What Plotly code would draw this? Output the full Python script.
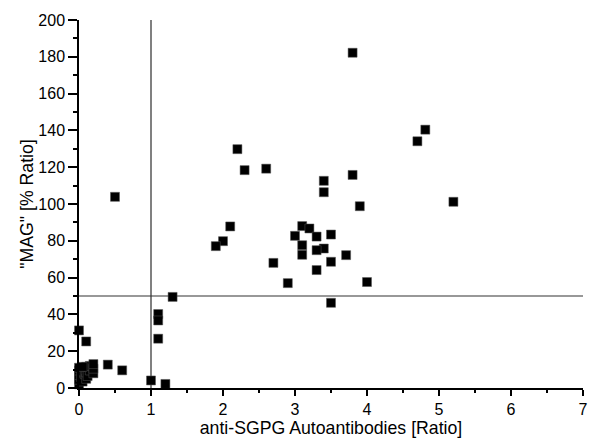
import plotly.graph_objects as go

x_vals = [3.80, 4.81, 4.70, 2.20, 2.30, 2.60, 3.80, 3.40, 3.40, 0.50, 5.20, 3.90,
          2.10, 2.00, 1.90, 3.10, 3.20, 3.00, 3.30, 3.50, 3.10, 3.40, 3.30, 3.10,
          3.71, 3.50, 2.70, 3.30, 2.90, 4.00, 3.50,
          1.30, 1.10, 1.10, 1.10, 1.00, 1.20,
          0.00, 0.10, 0.40, 0.60,
          0.00, 0.00, 0.00, 0.00, 0.00, 0.03, 0.05, 0.05, 0.08, 0.10, 0.10, 0.10,
          0.12, 0.15, 0.15, 0.20, 0.20, 0.20, 0.05]
y_vals = [182.2, 140.4, 134.1, 129.8, 118.4, 119.2, 115.8, 112.6, 106.4, 103.9, 101.2, 98.8,
          87.8, 79.8, 77.1, 88.0, 86.7, 82.7, 82.3, 83.4, 77.6, 75.8, 74.9, 72.4,
          72.2, 68.6, 68.0, 64.1, 57.0, 57.6, 46.3,
          49.5, 40.2, 36.7, 26.8, 4.1, 2.2,
          31.3, 25.3, 12.7, 9.6,
          2.0, 4.5, 7.0, 9.5, 11.0, 6.0, 3.5, 9.0, 7.5, 5.0, 8.5, 11.5,
          6.5, 9.5, 12.0, 8.0, 10.5, 13.0, 11.5]

x_ticks = [0, 1, 2, 3, 4, 5, 6, 7]
y_ticks = [0, 20, 40, 60, 80, 100, 120, 140, 160, 180, 200]
cut_x = 1
cut_y = 50

fig = go.Figure()
fig.add_trace(go.Scatter(
    x=x_vals, y=y_vals, mode="markers",
    marker=dict(symbol="square", size=9, color="black",
                line=dict(color="#555555", width=0.5)),
    cliponaxis=False, showlegend=False))

fig.add_shape(type="line", x0=cut_x, x1=cut_x, y0=0, y1=200, xref="x", yref="y",
              line=dict(color="#808080", width=2), layer="below")
fig.add_shape(type="line", x0=0, x1=7, y0=cut_y, y1=cut_y, xref="x", yref="y",
              line=dict(color="#333333", width=1.2), layer="below")

font_fam = "Liberation Sans, Arial"
axis_common = dict(showgrid=False, zeroline=False, showline=True, linecolor="black",
                   linewidth=1.5, ticks="outside", tickwidth=1.5, automargin=False,
                   ticklabeloverflow="allow",
                   tickcolor="black", tickfont=dict(size=16, color="black", family=font_fam))
fig.update_layout(
    width=589, height=447, autosize=False,
    margin=dict(l=79, r=6, t=20, b=59),
    paper_bgcolor="white", plot_bgcolor="white",
    font=dict(family=font_fam, color="black"),
    xaxis=dict(range=[0, 7], tickvals=x_ticks, ticklen=6,
               minor=dict(dtick=0.5, ticks="outside", ticklen=3, tickwidth=1.5,
                          tickcolor="black"),
               title=dict(text="anti-SGPG Autoantibodies [Ratio]",
                          font=dict(size=17.7), standoff=5),
               **axis_common),
    yaxis=dict(range=[0, 200], tickvals=y_ticks, ticklen=9,
               minor=dict(dtick=10, ticks="outside", ticklen=4, tickwidth=1.5,
                          tickcolor="black"),
               title=dict(text="\"MAG\" [% Ratio]", font=dict(size=17.7), standoff=0),
               **axis_common),
)
fig.write_html(
    "out.html",
    config={"displayModeBar": False},
    post_script="document.body.style.margin='0';document.body.style.overflow='hidden';",
)
